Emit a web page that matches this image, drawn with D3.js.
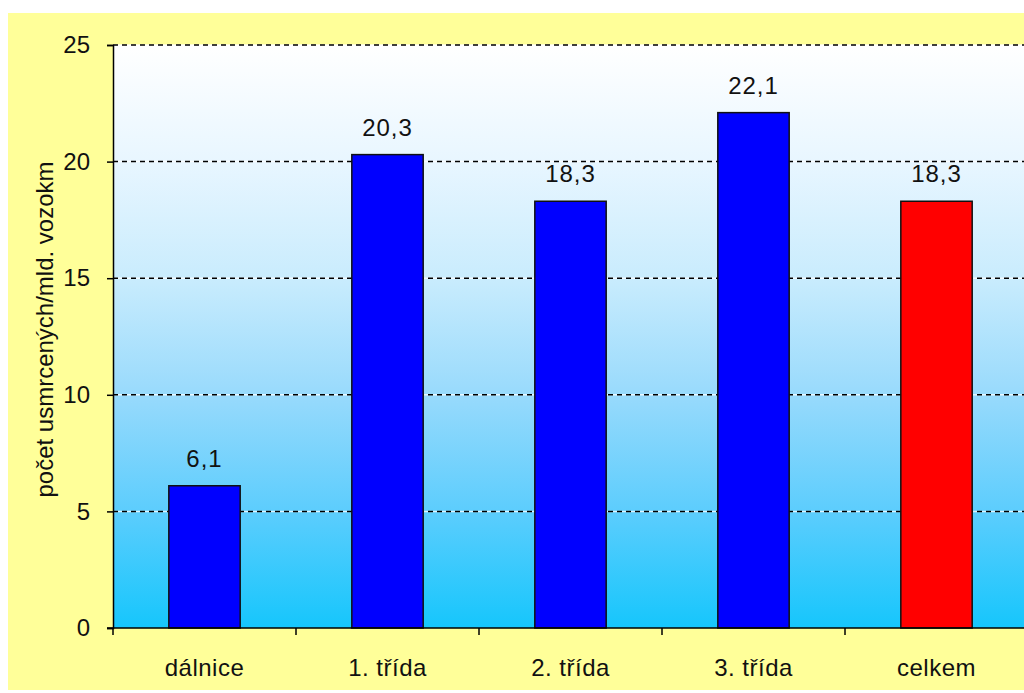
<!DOCTYPE html>
<html>
<head>
<meta charset="utf-8">
<script src="https://cdn.jsdelivr.net/npm/d3@7"></script>
<style>
  html, body { margin: 0; padding: 0; background: #fff; }
  svg { display: block; font-family: "Liberation Sans", Arial, sans-serif; }
</style>
</head>
<body>
<div id="chart"></div>
<script>
(function () {
    const width = 1024, height = 693;

    // ── DATA ───────────────────────────────────────────────────────────────
    const categories = ["dálnice", "1. třída", "2. třída", "3. třída", "celkem"];
    const values     = [6.1, 20.3, 18.3, 22.1, 18.3];
    const barColors  = ["#0000ff", "#0000ff", "#0000ff", "#0000ff", "#ff0000"];
    const yTicks     = [0, 5, 10, 15, 20, 25];
    const yLabel     = "počet usmrcených/mld. vozokm";

    // plot frame (the chart runs off the right edge of the picture)
    const left = 113, right = 1028, top = 45, bottom = 628;
    const fontSize = 24;

    const svg = d3.select("#chart").append("svg")
        .attr("width", width)
        .attr("height", height);

    // yellow chart area
    svg.append("rect")
        .attr("x", 8).attr("y", 13)
        .attr("width", width - 8).attr("height", 677)
        .attr("fill", "#ffff99");

    // ── SCALES ─────────────────────────────────────────────────────────────
    const x = d3.scaleBand()
        .domain(categories)
        .range([left, right])
        .paddingInner(0.61)
        .paddingOuter(0.305);

    const y = d3.scaleLinear().domain([0, 25]).range([bottom, top]);

    const fmt = d3.formatLocale({ decimal: ",", thousands: " ", grouping: [3], currency: ["", ""] }).format(".1f");

    // ── PLOT BACKGROUND GRADIENT ───────────────────────────────────────────
    const defs = svg.append("defs");
    const grad = defs.append("linearGradient")
        .attr("id", "bg-grad")
        .attr("x1", 0).attr("y1", 0).attr("x2", 0).attr("y2", 1);
    [[0, "#ffffff"], [0.2, "#e8f6ff"], [0.4, "#c9ecfd"], [0.6, "#98dafc"],
     [0.8, "#5ccdfd"], [1, "#16c6fc"]].forEach(([o, c]) => {
        grad.append("stop").attr("offset", o).attr("stop-color", c);
    });

    svg.append("rect")
        .attr("x", left).attr("y", top)
        .attr("width", right - left).attr("height", bottom - top)
        .attr("fill", "url(#bg-grad)");

    // ── GRIDLINES ──────────────────────────────────────────────────────────
    const grid = svg.append("g");
    const gridVals = yTicks.filter(d => d > 0);
    grid.selectAll(".grid-bg")
        .data(gridVals)
        .enter().append("line")
        .attr("x1", left).attr("x2", right)
        .attr("y1", d => y(d)).attr("y2", d => y(d))
        .attr("stroke", "rgba(255,255,255,0.8)")
        .attr("stroke-width", 1.5);
    grid.selectAll(".grid")
        .data(gridVals)
        .enter().append("line")
        .attr("x1", left).attr("x2", right)
        .attr("y1", d => y(d)).attr("y2", d => y(d))
        .attr("stroke", "#000")
        .attr("stroke-width", 1.5)
        .attr("stroke-dasharray", "5,4");

    // ── BARS ───────────────────────────────────────────────────────────────
    svg.selectAll(".bar")
        .data(values)
        .enter().append("rect")
        .attr("x", (d, i) => x(categories[i]))
        .attr("y", d => y(d))
        .attr("width", x.bandwidth())
        .attr("height", d => bottom - y(d))
        .attr("fill", (d, i) => barColors[i])
        .attr("stroke", "#111")
        .attr("stroke-width", 1.5);

    svg.selectAll(".val")
        .data(values)
        .enter().append("text")
        .attr("x", (d, i) => x(categories[i]) + x.bandwidth() / 2)
        .attr("y", d => y(d) - 19)
        .attr("text-anchor", "middle")
        .attr("font-size", fontSize)
        .attr("letter-spacing", 1)
        .attr("fill", "#111")
        .text(d => fmt(d));

    // ── AXES ───────────────────────────────────────────────────────────────
    const yAxis = svg.append("g")
        .attr("transform", `translate(${left},0)`)
        .call(d3.axisLeft(y).tickValues(yTicks).tickSize(6).tickPadding(17).tickFormat(d3.format("d")));
    yAxis.select(".domain").attr("stroke", "#000").attr("stroke-width", 1.5);
    yAxis.selectAll(".tick line").attr("stroke", "#000").attr("stroke-width", 1.5);
    yAxis.selectAll(".tick text")
        .attr("font-size", fontSize).attr("fill", "#111")
        .attr("font-family", "'Liberation Sans', Arial, sans-serif");

    const xAxis = svg.append("g")
        .attr("transform", `translate(0,${bottom})`)
        .call(d3.axisBottom(x).tickSize(0).tickPadding(31));
    xAxis.select(".domain").remove();
    xAxis.selectAll(".tick text")
        .attr("font-size", fontSize).attr("fill", "#111")
        .attr("letter-spacing", 0.5)
        .attr("font-family", "'Liberation Sans', Arial, sans-serif");

    svg.append("line")
        .attr("x1", left - 6).attr("x2", right)
        .attr("y1", bottom).attr("y2", bottom)
        .attr("stroke", "#000").attr("stroke-width", 1.5);

    // category boundary ticks
    svg.selectAll(".xtick")
        .data(d3.range(categories.length + 1))
        .enter().append("line")
        .attr("x1", i => left + i * x.step()).attr("x2", i => left + i * x.step())
        .attr("y1", bottom).attr("y2", bottom + 7)
        .attr("stroke", "#000").attr("stroke-width", 1.5);

    // y axis title
    svg.append("text")
        .attr("transform", `translate(53,${(top + bottom) / 2 - 7}) rotate(-90)`)
        .attr("text-anchor", "middle")
        .attr("font-size", fontSize)
        .attr("fill", "#111")
        .text(yLabel);
})();
</script>
</body>
</html>
